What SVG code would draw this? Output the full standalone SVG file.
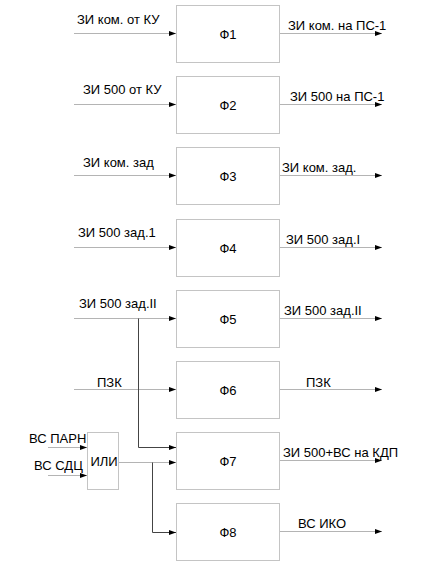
<svg xmlns="http://www.w3.org/2000/svg" width="438" height="568" viewBox="0 0 438 568">
<style>
.box{fill:#fff;stroke:#c4c4c4;stroke-width:1}
.h{stroke:#b4b4b4;stroke-width:1;fill:none}
.v{stroke:#444;stroke-width:1;fill:none}
text{font-family:"Liberation Sans",Arial,sans-serif;font-size:13px;fill:#000}
.c{text-anchor:middle}
</style>
<defs>
<marker id="a" markerUnits="userSpaceOnUse" markerWidth="8" markerHeight="6" refX="7" refY="3" orient="auto">
<path d="M0,0.5 L7,3 L0,5.5 Z" fill="#000"/>
</marker>
</defs>
<rect width="438" height="568" fill="#fff"/>
<g id="connectors">
<line class="h" x1="74" y1="33.5" x2="176" y2="33.5" marker-end="url(#a)"/>
<line class="h" x1="280" y1="33.5" x2="382" y2="33.5" marker-end="url(#a)"/>
<line class="h" x1="74" y1="104.5" x2="176" y2="104.5" marker-end="url(#a)"/>
<line class="h" x1="280" y1="104.5" x2="382" y2="104.5" marker-end="url(#a)"/>
<line class="h" x1="74" y1="175.5" x2="176" y2="175.5" marker-end="url(#a)"/>
<line class="h" x1="280" y1="175.5" x2="382" y2="175.5" marker-end="url(#a)"/>
<line class="h" x1="74" y1="247.5" x2="176" y2="247.5" marker-end="url(#a)"/>
<line class="h" x1="280" y1="247.5" x2="382" y2="247.5" marker-end="url(#a)"/>
<line class="h" x1="74" y1="318.5" x2="176" y2="318.5" marker-end="url(#a)"/>
<line class="h" x1="280" y1="318.5" x2="382" y2="318.5" marker-end="url(#a)"/>
<line class="h" x1="74" y1="389.5" x2="176" y2="389.5" marker-end="url(#a)"/>
<line class="h" x1="280" y1="389.5" x2="382" y2="389.5" marker-end="url(#a)"/>
<line class="h" x1="280" y1="460.5" x2="382" y2="460.5" marker-end="url(#a)"/>
<line class="h" x1="280" y1="531.5" x2="382" y2="531.5" marker-end="url(#a)"/>
<polyline class="v" points="138.5,318.5 138.5,447.5 176,447.5" marker-end="url(#a)"/>
<line class="h" x1="119" y1="462.5" x2="176" y2="462.5" marker-end="url(#a)"/>
<polyline class="v" points="152.5,462.5 152.5,532.5 176,532.5" marker-end="url(#a)"/>
<line class="h" x1="48" y1="447.5" x2="87" y2="447.5" marker-end="url(#a)"/>
<line class="h" x1="48" y1="475.5" x2="87" y2="475.5" marker-end="url(#a)"/>
</g>
<g id="f1"><rect class="box" x="176.5" y="5.5" width="103" height="57"/><text class="c" x="228" y="39">Ф1</text></g>
<g id="f2"><rect class="box" x="176.5" y="76.5" width="103" height="57"/><text class="c" x="228" y="110">Ф2</text></g>
<g id="f3"><rect class="box" x="176.5" y="147.5" width="103" height="57"/><text class="c" x="228" y="181">Ф3</text></g>
<g id="f4"><rect class="box" x="176.5" y="219.5" width="103" height="57"/><text class="c" x="228" y="253">Ф4</text></g>
<g id="f5"><rect class="box" x="176.5" y="290.5" width="103" height="57"/><text class="c" x="228" y="324">Ф5</text></g>
<g id="f6"><rect class="box" x="176.5" y="361.5" width="103" height="57"/><text class="c" x="228" y="395">Ф6</text></g>
<g id="f7"><rect class="box" x="176.5" y="432.5" width="103" height="57"/><text class="c" x="228" y="466">Ф7</text></g>
<g id="f8"><rect class="box" x="176.5" y="503.5" width="103" height="57"/><text class="c" x="228" y="537">Ф8</text></g>
<g id="ili"><rect class="box" x="87.5" y="432.5" width="31" height="57"/><text class="c" x="104" y="466">ИЛИ</text></g>
<g id="labels">
<text x="77" y="24">ЗИ ком. от КУ</text>
<text x="288" y="30">ЗИ ком. на ПС-1</text>
<text x="83" y="94">ЗИ 500 от КУ</text>
<text x="290" y="101">ЗИ 500 на ПС-1</text>
<text x="83" y="167">ЗИ ком. зад</text>
<text x="282" y="172">ЗИ ком. зад.</text>
<text x="78" y="237">ЗИ 500 зад.1</text>
<text x="286" y="244">ЗИ 500 зад.I</text>
<text x="79" y="308">ЗИ 500 зад.II</text>
<text x="284" y="315">ЗИ 500 зад.II</text>
<text x="97" y="387">ПЗК</text>
<text x="306" y="387">ПЗК</text>
<text x="283" y="457">ЗИ 500+ВС на КДП</text>
<text x="298" y="528">ВС ИКО</text>
<text x="29" y="443">ВС ПАРН</text>
<text x="34" y="470">ВС СДЦ</text>
</g>
</svg>
